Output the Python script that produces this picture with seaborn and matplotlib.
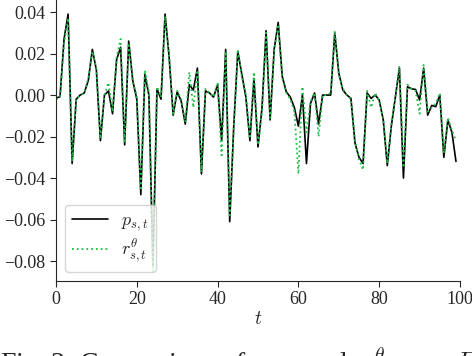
import numpy as np
import pandas as pd
import matplotlib
matplotlib.use("Agg")
import matplotlib.pyplot as plt
import seaborn as sns

# values, one per time step
p_st = [
    -0.0015, -0.0008, 0.027, 0.039, -0.033, -0.002, 0.000, 0.001, 0.007, 0.022,
    0.012, -0.022, 0.000, 0.002, -0.009, 0.017, 0.023, -0.024, 0.026, 0.007,
    -0.002, -0.048, 0.010, 0.000, -0.083, 0.003, -0.002, 0.039, 0.0185, -0.0097,
    0.0016, -0.003, -0.014, 0.005, 0.0024, 0.013, -0.038, 0.002, 0.001, -0.001,
    0.005, -0.022, 0.022, -0.061, -0.015, 0.021, 0.010, -0.001, -0.022, 0.008,
    -0.025, -0.006, 0.031, -0.012, 0.022, 0.035, 0.009, 0.0016, -0.001, -0.006,
    -0.015, 0.000, -0.033, -0.004, 0.001, -0.014, 0.000, 0.000, 0.000, 0.030,
    0.0105, 0.0024, 0.000, -0.0016, -0.023, -0.030, -0.033, 0.001, -0.0016, 0.000,
    -0.0024, -0.012, -0.034, -0.015, -0.001, 0.013, -0.040, 0.004, 0.003, 0.0027,
    -0.0024, 0.013, -0.0097, -0.005, -0.0056, 0.000, -0.030, -0.012, -0.018, -0.032,
]
r_st = [
    -0.002, -0.001, 0.025, 0.037, -0.032, -0.002, 0.000, 0.001, 0.008, 0.021,
    0.013, -0.021, 0.000, 0.006, -0.008, 0.018, 0.027, -0.023, 0.025, 0.006,
    0.000, -0.046, 0.012, 0.001, -0.085, 0.004, -0.001, 0.038, 0.019, -0.009,
    0.002, -0.002, -0.013, 0.011, -0.006, 0.012, -0.037, 0.003, 0.001, -0.001,
    0.006, -0.029, 0.021, -0.058, -0.016, 0.022, 0.009, 0.000, -0.021, 0.011,
    -0.024, -0.008, 0.030, -0.011, 0.021, 0.034, 0.008, 0.001, -0.002, -0.008,
    -0.038, 0.004, -0.018, -0.003, 0.001, -0.020, 0.000, 0.000, 0.001, 0.031,
    0.010, 0.003, 0.000, -0.002, -0.022, -0.031, -0.036, 0.002, -0.006, 0.001,
    -0.003, -0.011, -0.033, -0.014, -0.001, 0.014, -0.035, 0.005, 0.003, 0.002,
    -0.009, 0.0145, -0.008, -0.006, -0.004, 0.001, -0.028, -0.011, -0.017, -0.022,
]
t = np.arange(len(p_st))
y_ticks = [0.04, 0.02, 0.00, -0.02, -0.04, -0.06, -0.08]
x_ticks = [0, 20, 40, 60, 80, 100]

sns.set_style("ticks")
plt.rcParams["font.family"] = ["Liberation Serif", "DejaVu Serif"]
plt.rcParams["mathtext.fontset"] = "cm"
plt.rcParams["axes.unicode_minus"] = True

df = pd.DataFrame({"t": t, "p": p_st, "r": r_st})

fig = plt.figure(figsize=(4.72, 3.56), dpi=100)
ax = fig.add_axes([0.1186, 0.2107, 0.856, 0.7893])

sns.lineplot(data=df, x="t", y="p", ax=ax, color="black", linewidth=1.2,
             label=r"$p_{s,t}$")
sns.lineplot(data=df, x="t", y="r", ax=ax, color="#1fbf46", linewidth=1.3,
             linestyle=":", label=r"$r^{\theta}_{s,t}$")

ax.set_xlim(0, 100)
ax.set_ylim(-0.0896, 0.0458)
ax.set_xticks(x_ticks)
ax.set_yticks(y_ticks)
ax.set_yticklabels([f"{v:.2f}".replace("-", "\u2212") for v in y_ticks])
ax.set_xlabel(r"$t$", fontsize=14, labelpad=2)
ax.set_ylabel("")
ax.tick_params(labelsize=13, length=4, width=0.8)
sns.despine(ax=ax)

leg = ax.legend(loc="lower left", fontsize=13, frameon=True, handlelength=2.0,
                handletextpad=0.7, labelspacing=0.25, borderpad=0.4,
                borderaxespad=0.5)
leg.get_frame().set_edgecolor("#cccccc")

# caption below the chart, cut by the lower edge as in the reference
fig.text(0.0, -0.046,
         r"Fig. 3: Comparison of $p_{s,t}$  and  $r^{\theta}_{s,t}$  on  $D$",
         fontsize=20, ha="left", va="baseline")

fig.savefig("out.png", dpi=100)
